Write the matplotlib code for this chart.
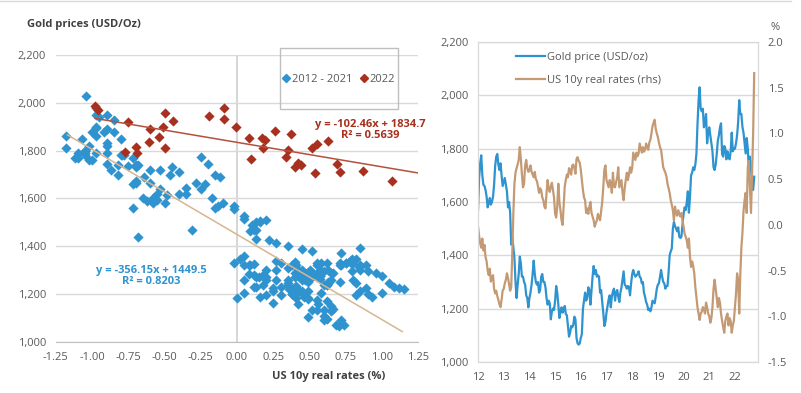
import numpy as np
import matplotlib
matplotlib.use('Agg')
import matplotlib.pyplot as plt
from matplotlib.patches import Rectangle
from matplotlib.lines import Line2D
from matplotlib.ticker import FuncFormatter

plt.rcParams['font.family'] = ['Open Sans', 'DejaVu Sans']

gold_2012 = [1570, 1690, 1745, 1775, 1700, 1665, 1660, 1645, 1620, 1580, 1595, 1615,
             1590, 1600, 1620, 1665, 1735, 1770, 1780, 1740, 1720, 1745, 1700, 1660]
gold_2013 = [1675, 1690, 1665, 1640, 1580, 1600, 1560, 1440, 1470, 1430, 1390, 1300,
             1240, 1290, 1330, 1395, 1370, 1320, 1320, 1300, 1290, 1250, 1240, 1205]
gold_2014 = [1240, 1260, 1290, 1330, 1380, 1330, 1300, 1290, 1300, 1260, 1270, 1320,
             1330, 1300, 1300, 1280, 1240, 1215, 1230, 1220, 1160, 1190, 1200, 1195]
gold_2015 = [1230, 1285, 1260, 1215, 1165, 1190, 1205, 1185, 1195, 1210, 1180, 1175,
             1135, 1095, 1110, 1135, 1130, 1140, 1170, 1160, 1090, 1070, 1065, 1070]
gold_2016 = [1090, 1105, 1200, 1230, 1260, 1230, 1240, 1280, 1270, 1215, 1270, 1320,
             1360, 1330, 1345, 1320, 1325, 1320, 1260, 1270, 1225, 1185, 1135, 1150]
gold_2017 = [1185, 1210, 1235, 1250, 1205, 1245, 1265, 1275, 1230, 1260, 1270, 1245,
             1225, 1260, 1280, 1310, 1340, 1290, 1285, 1275, 1285, 1280, 1250, 1295]
gold_2018 = [1330, 1345, 1330, 1320, 1325, 1330, 1340, 1320, 1315, 1295, 1300, 1260,
             1245, 1225, 1215, 1195, 1200, 1190, 1205, 1230, 1225, 1220, 1245, 1275]
gold_2019 = [1290, 1295, 1320, 1345, 1320, 1300, 1295, 1275, 1285, 1285, 1335, 1400,
             1415, 1425, 1500, 1525, 1510, 1500, 1490, 1505, 1470, 1465, 1470, 1515]
gold_2020 = [1555, 1580, 1570, 1600, 1640, 1560, 1620, 1700, 1710, 1730, 1720, 1740,
             1780, 1890, 1980, 2030, 1950, 1940, 1950, 1880, 1900, 1930, 1820, 1860]
gold_2021 = [1880, 1850, 1820, 1790, 1730, 1720, 1740, 1780, 1830, 1850, 1880, 1895,
             1780, 1770, 1810, 1800, 1760, 1790, 1770, 1760, 1790, 1860, 1790, 1800]
gold_2022 = [1800, 1820, 1850, 1900, 1982, 1930, 1930, 1882, 1860, 1820, 1782, 1840,
             1800, 1720, 1770, 1720, 1682, 1645, 1695]

rates_2012 = [-0.02, -0.12, -0.20, -0.25, -0.15, -0.28, -0.22, -0.35, -0.40, -0.50, -0.55, -0.48,
              -0.62, -0.58, -0.55, -0.70, -0.75, -0.72, -0.78, -0.82, -0.87, -0.90, -0.82, -0.72]
rates_2013 = [-0.70, -0.64, -0.60, -0.53, -0.58, -0.65, -0.72, -0.68, -0.31, 0.13, 0.45, 0.57,
              0.62, 0.66, 0.71, 0.85, 0.72, 0.55, 0.41, 0.45, 0.65, 0.71, 0.62, 0.58]
rates_2014 = [0.60, 0.65, 0.58, 0.55, 0.52, 0.58, 0.50, 0.48, 0.42, 0.35, 0.40, 0.38,
              0.30, 0.27, 0.20, 0.18, 0.35, 0.49, 0.40, 0.36, 0.42, 0.46, 0.38, 0.30]
rates_2015 = [0.12, 0.08, 0.20, 0.45, 0.25, 0.16, 0.05, 0.00, 0.20, 0.42, 0.49, 0.55,
              0.52, 0.62, 0.60, 0.55, 0.65, 0.66, 0.62, 0.56, 0.72, 0.74, 0.70, 0.68]
rates_2016 = [0.60, 0.49, 0.38, 0.30, 0.27, 0.13, 0.18, 0.12, 0.20, 0.25, 0.13, 0.09,
              0.05, -0.02, 0.02, 0.05, 0.12, 0.08, 0.05, 0.15, 0.25, 0.41, 0.60, 0.65]
rates_2017 = [0.49, 0.45, 0.41, 0.49, 0.45, 0.35, 0.57, 0.42, 0.41, 0.47, 0.52, 0.63,
              0.41, 0.45, 0.49, 0.35, 0.27, 0.40, 0.49, 0.57, 0.49, 0.55, 0.63, 0.57]
rates_2018 = [0.62, 0.79, 0.75, 0.71, 0.79, 0.75, 0.78, 0.89, 0.84, 0.79, 0.85, 0.80,
              0.82, 0.89, 0.85, 0.82, 0.90, 0.93, 1.00, 1.08, 1.12, 1.15, 1.05, 1.00]
rates_2019 = [0.96, 0.90, 0.85, 0.82, 0.72, 0.63, 0.60, 0.57, 0.53, 0.45, 0.40, 0.35,
              0.27, 0.22, 0.16, 0.05, 0.20, 0.13, 0.10, 0.16, 0.12, 0.09, 0.13, 0.05]
rates_2020 = [-0.02, -0.10, -0.13, -0.17, -0.25, -0.15, -0.35, -0.46, -0.40, -0.45, -0.53, -0.68,
              -0.79, -0.90, -0.97, -1.04, -0.97, -0.95, -0.90, -0.92, -0.97, -0.85, -0.90, -0.97]
rates_2021 = [-1.00, -1.07, -1.02, -0.90, -0.70, -0.60, -0.70, -0.80, -0.90, -0.80, -0.85, -0.97,
              -1.05, -1.12, -1.18, -1.05, -1.00, -0.97, -1.10, -1.02, -1.05, -1.18, -1.10, -1.05]
rates_2022 = [-0.90, -0.75, -0.53, -0.60, -0.97, -0.55, -0.25, -0.09, 0.15, 0.27, 0.35, 0.13,
              0.63, 0.70, 0.40, 0.13, 0.57, 1.00, 1.66]

# 2022 weekly points of the scatter
scat22_rates = [-0.98, -0.96, -0.75, -0.77, -0.70, -0.69, -0.60, -0.61, -0.54, -0.51, -0.50, -0.50,
                -0.44, -0.19, -0.09, -0.09, -0.01, 0.085, 0.094, 0.17, 0.19, 0.177, 0.26, 0.37,
                0.355, 0.34, 0.40, 0.42, 0.44, 0.54, 0.517, 0.55, 0.63, 0.69, 0.71, 0.87, 1.07]
scat22_gold = [1987, 1970, 1921, 1796, 1816, 1789, 1889, 1837, 1858, 1900, 1959, 1810,
               1925, 1945, 1977, 1931, 1898, 1851, 1765, 1851, 1844, 1810, 1883, 1870,
               1803, 1775, 1733, 1747, 1740, 1708, 1810, 1828, 1840, 1744, 1712, 1716, 1674]

# trendlines from the chart labels: slope, intercept, x range
fit_hist = (-356.15, 1449.5, -1.17, 1.14)
fit_22 = (-102.46, 1834.7, -0.98, 1.25)

gold = np.concatenate([gold_2012, gold_2013, gold_2014, gold_2015, gold_2016, gold_2017,
                       gold_2018, gold_2019, gold_2020, gold_2021, gold_2022]).astype(float)
rates = np.concatenate([rates_2012, rates_2013, rates_2014, rates_2015, rates_2016, rates_2017,
                        rates_2018, rates_2019, rates_2020, rates_2021, rates_2022])
t = 12 + np.arange(len(gold)) / 24.0
hist = t < 22

BLUE = '#2E93CF'
RED = '#A8301E'
TAN = '#D8B590'
BROWN = '#C49A74'
TXT = '#595959'
GRID = '#D9D9D9'

fig = plt.figure(figsize=(8.01, 3.93), dpi=100)
fig.add_artist(Line2D([0, 0.9875], [0.997, 0.997], transform=fig.transFigure, color=GRID, lw=1))

# ---- left: scatter
ax1 = fig.add_axes([0.0696, 0.1298, 0.4526, 0.7303])
ax1.set_xlim(-1.25, 1.25)
ax1.set_ylim(1000, 2200)
ax1.set_yticks(range(1000, 2201, 200))
ax1.set_xticks(np.arange(-1.25, 1.26, 0.25))
ax1.yaxis.set_major_formatter(FuncFormatter(lambda v, p: f'{v:,.0f}'))
ax1.xaxis.set_major_formatter(FuncFormatter(lambda v, p: f'{v:.2f}'))
ax1.yaxis.grid(True, color=GRID, lw=1)
ax1.set_axisbelow(True)
for s in ['top', 'right', 'left']:
    ax1.spines[s].set_visible(False)
ax1.spines['bottom'].set_color('#BFBFBF')
ax1.axvline(0, color='#D0D0D0', lw=1.2, zorder=0)
ax1.tick_params(length=0, labelsize=8, labelcolor=TXT)
ax1.tick_params(axis='y', pad=7)
ax1.tick_params(axis='x', pad=7)

ax1.scatter(rates[hist], gold[hist], marker='D', s=27, color=BLUE, lw=0, zorder=2)
ax1.scatter(scat22_rates, scat22_gold, marker='D', s=27, color=RED, lw=0, zorder=3)

for (m, b, x0, x1), c in [(fit_hist, TAN), (fit_22, '#B5503C')]:
    xs = np.array([x0, x1])
    ax1.plot(xs, m * xs + b, color=c, lw=1.1, zorder=4)

ax1.text(-0.59, 1276, 'y = -356.15x + 1449.5\nR² = 0.8203', ha='center', va='center',
         color=BLUE, fontsize=8, fontweight='bold', linespacing=1.1)
ax1.text(0.92, 1886, 'y = -102.46x + 1834.7\nR² = 0.5639', ha='center', va='center',
         color=RED, fontsize=8, fontweight='bold', linespacing=1.1)

h1 = [Line2D([], [], marker='D', ls='none', color=BLUE, markersize=4),
      Line2D([], [], marker='D', ls='none', color=RED, markersize=4)]
ax1.legend(h1, ['2012 - 2021', '2022'], ncol=2, frameon=False, loc='center',
           bbox_to_anchor=(338 / 801, 1 - 79 / 393), bbox_transform=fig.transFigure,
           handletextpad=0.0, columnspacing=0.6, handlelength=1.0, fontsize=8,
           labelcolor=TXT)
fig.patches.append(Rectangle((0.3496, 0.7226), 0.1473, 0.1552, transform=fig.transFigure,
                             fill=False, ec='#BFBFBF', lw=1))

fig.text(27 / 801, 1 - 25 / 393, 'Gold prices (USD/Oz)', fontweight='bold', fontsize=8,
         va='center', color='#404040')
fig.text(329 / 801, 1 - 376 / 393, 'US 10y real rates (%)', fontweight='bold', fontsize=8,
         ha='center', va='center', color='#404040')

# ---- right: time series
ax2 = fig.add_axes([0.5968, 0.0789, 0.3496, 0.8142])
ax2.set_xlim(12, 22.9)
ax2.set_ylim(1000, 2200)
ax2.set_yticks(range(1000, 2201, 200))
ax2.set_xticks(range(12, 23))
ax2.set_xticklabels([str(y) for y in range(12, 23)])
ax2.yaxis.set_major_formatter(FuncFormatter(lambda v, p: f'{v:,.0f}'))
ax2.yaxis.grid(True, color=GRID, lw=1)
ax2.set_axisbelow(True)
ax2r = ax2.twinx()
ax2r.set_ylim(-1.5, 2.0)
ax2r.set_yticks(np.arange(-1.5, 2.01, 0.5))
ax2r.yaxis.set_major_formatter(FuncFormatter(lambda v, p: f'{v:.1f}'))
for a in (ax2, ax2r):
    for s in a.spines.values():
        s.set_color(GRID)
    a.tick_params(length=0, labelsize=8, labelcolor=TXT, pad=7)
ax2.tick_params(axis='x', pad=7)

l1, = ax2.plot(t, gold, color=BLUE, lw=1.6)
l2, = ax2r.plot(t, rates, color=BROWN, lw=1.6)
ax2r.legend([l1, l2], ['Gold price (USD/oz)', 'US 10y real rates (rhs)'], loc='upper left',
            bbox_to_anchor=(0.1, 1.0), frameon=False, fontsize=8, handlelength=2.6,
            handletextpad=0.2, labelspacing=1.1, labelcolor=TXT)
fig.text(775 / 801, 1 - 27 / 393, '%', ha='center', va='center', fontsize=8, color=TXT)

fig.savefig('out.png', dpi=100)
